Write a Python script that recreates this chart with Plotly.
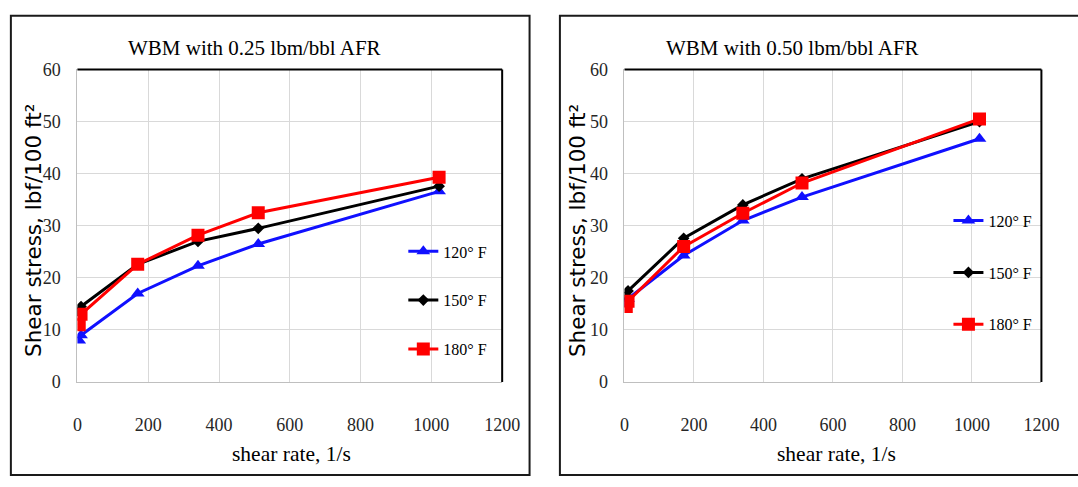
import plotly.graph_objects as go

# ---------------- data ----------------
shear_rate = [5.11, 10.22, 170.3, 340.6, 510.9, 1021.8]

left_120 = [8.0, 9.0, 17.0, 22.3, 26.5, 36.6]
left_150 = [13.5, 14.5, 22.6, 27.0, 29.5, 37.6]
left_180 = [11.0, 13.0, 22.6, 28.2, 32.5, 39.3]

right_120 = [15.0, 16.0, 24.3, 31.0, 35.5, 46.7]
right_150 = [16.5, 17.5, 27.6, 34.0, 39.0, 50.0]
right_180 = [14.5, 15.5, 26.0, 32.4, 38.2, 50.5]

series_names = ["120° F", "150° F", "180° F"]
titles = ["WBM with 0.25 lbm/bbl AFR", "WBM with 0.50 lbm/bbl AFR"]
x_ticks = [0, 200, 400, 600, 800, 1000, 1200]
y_ticks = [0, 10, 20, 30, 40, 50, 60]

# ---------------- styling ----------------
W, H = 1078, 487
colors = ["#1010ff", "#000000", "#ff0000"]
symbols = ["triangle-up", "diamond", "square"]
msizes = [12, 9, 13]
SERIF = "Liberation Serif"
SANS = "DejaVu Sans"


def px(x):
    return min(max(x / W, -0.02), 1.02)


def py(y):
    return min(max(1 - y / H, -0.02), 1.02)


fig = go.Figure()

panels = [
    dict(data=[left_120, left_150, left_180], xa="x", ya="y", legend="legend"),
    dict(data=[right_120, right_150, right_180], xa="x2", ya="y2", legend="legend2"),
]

for p in panels:
    for i, vals in enumerate(p["data"]):
        fig.add_trace(go.Scatter(
            x=shear_rate, y=vals, name=series_names[i],
            mode="lines+markers",
            line=dict(color=colors[i], width=3),
            marker=dict(symbol=symbols[i], size=msizes[i], color=colors[i]),
            xaxis=p["xa"], yaxis=p["ya"], legend=p["legend"],
            legendgroup=p["legend"] + str(i),
        ))

ydom = [py(388), py(62)]
axis_common = dict(
    showgrid=True, gridcolor="#d9d9d9", gridwidth=1,
    showline=True, linecolor="#bfbfbf", linewidth=1,
    zeroline=False, ticks="",
    tickfont=dict(family=SERIF, size=18, color="#262626"),
)

fig.update_layout(
    xaxis=dict(domain=[px(74), px(508)], range=[0, 1200], tickvals=x_ticks,
               anchor="y", ticklabelstandoff=26, **axis_common),
    yaxis=dict(domain=ydom, range=[0, 60], tickvals=y_ticks, anchor="x",
               ticklabelstandoff=12, **axis_common),
    xaxis2=dict(domain=[px(633), px(1059)], range=[0, 1200], tickvals=x_ticks,
                anchor="y2", ticklabelstandoff=26, **axis_common),
    yaxis2=dict(domain=ydom, range=[0, 60], tickvals=y_ticks, anchor="x2",
                ticklabelstandoff=12, **axis_common),
)

legend_common = dict(
    font=dict(family=SERIF, size=16, color="#000000"),
    bgcolor="rgba(0,0,0,0)", borderwidth=0,
    xanchor="left", yanchor="top", itemwidth=30,
)
fig.update_layout(
    legend=dict(x=px(407), y=py(234), tracegroupgap=25, **legend_common),
    legend2=dict(x=px(964), y=py(202), tracegroupgap=28, **legend_common),
)

shapes = []
# panel borders
shapes.append(dict(type="rect", xref="paper", yref="paper",
                   x0=px(6), x1=px(536), y0=py(485), y1=py(6),
                   line=dict(color="#1a1a1a", width=2)))
shapes.append(dict(type="rect", xref="paper", yref="paper",
                   x0=px(567), x1=1.02, y0=py(485), y1=py(6),
                   line=dict(color="#1a1a1a", width=2)))
# plot-area top and right borders
for xa, ya in [("x", "y"), ("x2", "y2")]:
    shapes.append(dict(type="line", xref=xa + " domain", yref=ya + " domain",
                       x0=0, x1=1, y0=1, y1=1, line=dict(color="#000", width=2)))
    shapes.append(dict(type="line", xref=xa + " domain", yref=ya + " domain",
                       x0=1, x1=1, y0=0, y1=1, line=dict(color="#000", width=2)))

annotations = []
for t, cx in zip(titles, [255, 805]):
    annotations.append(dict(text=t, x=px(cx), y=py(40), xref="paper", yref="paper",
                            showarrow=False, xanchor="center", yanchor="middle",
                            font=dict(family=SERIF, size=21, color="#000")))
for cx in [293, 850]:
    annotations.append(dict(text="shear rate, 1/s", x=px(cx), y=py(463),
                            xref="paper", yref="paper", showarrow=False,
                            xanchor="center", yanchor="middle",
                            font=dict(family=SERIF, size=21.5, color="#000")))
for cx in [29, 585]:
    annotations.append(dict(text="Shear stress, lbf/100 ft²", x=px(cx), y=py(230),
                            xref="paper", yref="paper", showarrow=False,
                            xanchor="center", yanchor="middle", textangle=-90,
                            font=dict(family=SANS, size=21.5, color="#000")))

fig.update_layout(
    width=W, height=H, margin=dict(l=0, r=0, t=0, b=0),
    paper_bgcolor="white", plot_bgcolor="white",
    shapes=shapes, annotations=annotations, showlegend=True,
)

fig.write_html("out.html", config={"displayModeBar": False},
               post_script="document.body.style.margin='0px';"
                           "document.body.style.overflow='hidden';")
